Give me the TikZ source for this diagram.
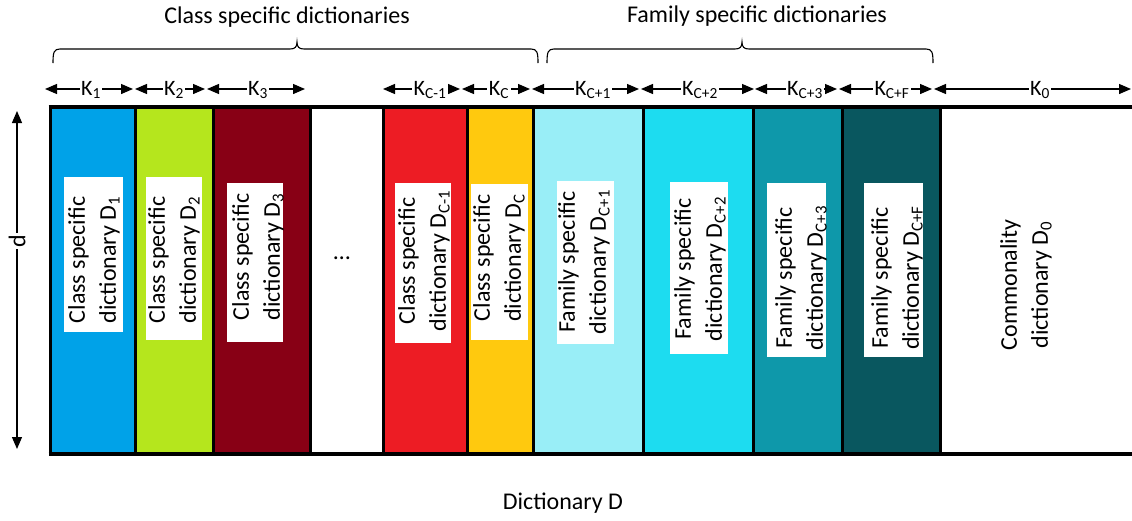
\documentclass[tikz,border=0pt]{standalone}
\usepackage{fontspec}
\setmainfont{Carlito}
\usetikzlibrary{arrows.meta}
\definecolor{cBlue}{HTML}{00A2E8}
\definecolor{cLime}{HTML}{B5E61D}
\definecolor{cDarkRed}{HTML}{880015}
\definecolor{cRed}{HTML}{ED1C24}
\definecolor{cGold}{HTML}{FFC90E}
\definecolor{cLCyan}{HTML}{99EEF7}
\definecolor{cCyan}{HTML}{1DDCF0}
\definecolor{cTeal}{HTML}{0E98AA}
\definecolor{cDTeal}{HTML}{09575F}
\begin{document}
\begin{tikzpicture}[x=1pt,y=-1pt,
  bigfont/.style={font=\fontsize{24}{31}\selectfont},
  klab/.style={font=\fontsize{22}{26}\selectfont, fill=white, inner sep=1.5pt},
  karrow/.style={line width=1.3pt, {Triangle[length=12pt,width=10pt]}-{Triangle[length=12pt,width=10pt]}},
  boxtext/.style={rotate=90, align=center, font=\fontsize{24}{31}\selectfont, inner sep=0pt},
  sep/.style={line width=3pt, black},
  bracepath/.style={line width=1.1pt}]
\useasboundingbox (0,0) rectangle (1132,520);
\fill[white] (0,0) rectangle (1132,520);

% column fills
\foreach \xa/\xb/\col in {50/135/cBlue,135/213/cLime,213/310/cDarkRed,310/383/white,383/467/cRed,467/533/cGold,533/643/cLCyan,643/753/cCyan,753/842/cTeal,842/940/cDTeal,940/1132/white}
  \fill[\col] (\xa,107) rectangle (\xb,453);

% separators
\foreach \x in {50,135,213,310,383,467,533,643,753,842,940}
  \draw[sep] (\x,106) -- (\x,456);
\draw[line width=3.5pt] (48.5,107) -- (1132,107);
\draw[line width=3.5pt] (48.5,454) -- (1132,454);

% white label boxes
\foreach \xa/\ya/\xb/\yb in {64/177/123/332,146/177/202/340,227/183/283/342,395/183/451/343,471/184/528/340,557/181/614/344,670/182/728/354,767/183/826/357,864/183/923/357}
  \fill[white] (\xa,\ya) rectangle (\xb,\yb);

% box texts
\node[boxtext] (t1) at (94,260) {Class specific\\dictionary D\textsubscript{1}};
\node[boxtext] (t2) at (174,260) {Class specific\\dictionary D\textsubscript{2}};
\node[boxtext] (t3) at (258,257) {Class specific\\dictionary D\textsubscript{3}};
\node[bigfont] (dots) at (342,258) {\ldots};
\node[boxtext] (tc1) at (424,261) {Class specific\\dictionary D\textsubscript{C-1}};
\node[boxtext] (tc) at (499,258) {Class specific\\dictionary D\textsubscript{C}};
\node[boxtext] (tf1) at (584,262) {Family specific\\dictionary D\textsubscript{C+1}};
\node[boxtext] (tf2) at (700,269) {Family specific\\dictionary D\textsubscript{C+2}};
\node[boxtext] (tf3) at (801,278) {Family specific\\dictionary D\textsubscript{C+3}};
\node[boxtext] (tff) at (897,278) {Family specific\\dictionary D\textsubscript{C+F}};
\node[boxtext] (t0) at (1026,285) {Commonality\\dictionary D\textsubscript{0}};

% K arrows
\foreach \n/\xa/\xb in {a/45/133,b/135/205,c/207/305,d/383/460,e/462/530,f/532/639,g/641/754,h/755/837,i/839/932,j/934/1131}{
  \coordinate (kl\n) at (\xa,89);
  \coordinate (kr\n) at (\xb,89);
  \draw[karrow] (kl\n) -- (kr\n);
}
\node[klab] (k1) at (91,90) {K\textsubscript{1}};
\node[klab] (k2) at (174,90) {K\textsubscript{2}};
\node[klab] (k3) at (258,90) {K\textsubscript{3}};
\node[klab] (kc1) at (430,90) {K\textsubscript{C-1}};
\node[klab] (kc) at (499,90) {K\textsubscript{C}};
\node[klab] (kf1) at (593,90) {K\textsubscript{C+1}};
\node[klab] (kf2) at (700,90) {K\textsubscript{C+2}};
\node[klab] (kf3) at (805,90) {K\textsubscript{C+3}};
\node[klab] (kff) at (892,90) {K\textsubscript{C+F}};
\node[klab] (k0) at (1040,90) {K\textsubscript{0}};

% d arrow
\coordinate (dtop) at (17,111);
\coordinate (dbot) at (17,449);
\draw[karrow] (dtop) -- (dbot);
\node[bigfont, rotate=90, fill=white, inner sep=2pt] (dlab) at (17,241) {d};

% braces
\draw[bracepath] (53,63) .. controls (53,52) and (54,49) .. (60,49) -- (290,49)
  .. controls (295,49) and (297,47) .. (297,42)
  .. controls (297,47) and (299,49) .. (304,49) -- (531,49)
  .. controls (537,49) and (538,52) .. (538,63);
\draw[bracepath] (547,63) .. controls (547,52) and (548,49) .. (554,49) -- (735,49)
  .. controls (740,49) and (742,47) .. (742,42)
  .. controls (742,47) and (744,49) .. (749,49) -- (926,49)
  .. controls (932,49) and (933,52) .. (933,63);

% titles
\node[bigfont] (tclass) at (287,17) {Class specific dictionaries};
\node[bigfont] (tfam) at (757,16) {Family specific dictionaries};
\node[bigfont] (tdict) at (563,503) {Dictionary D};
\end{tikzpicture}
\end{document}
